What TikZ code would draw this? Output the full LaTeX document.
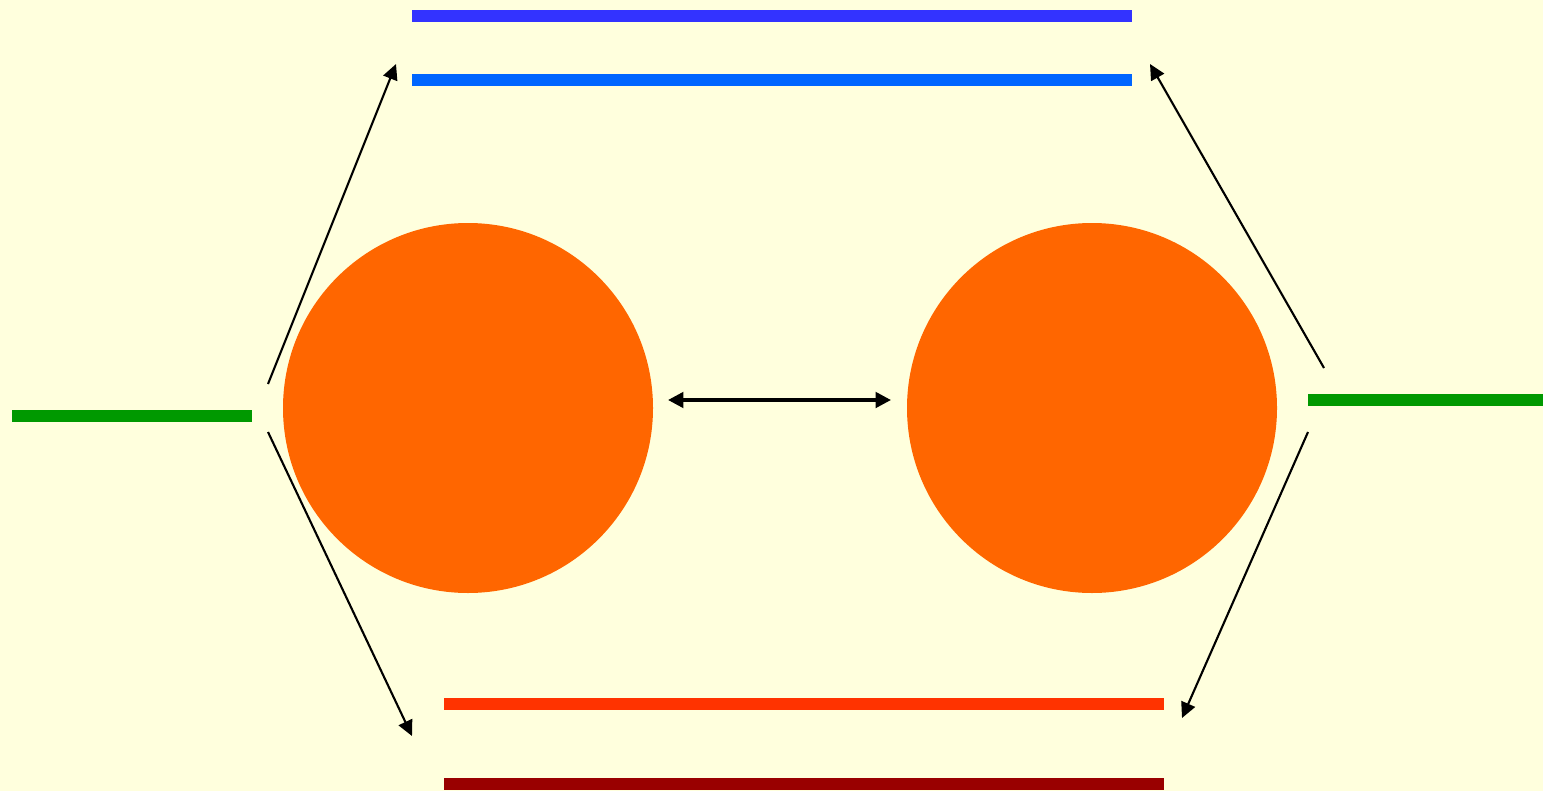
\documentclass[tikz,border=0pt]{standalone}
\usepackage{tikz}
\usetikzlibrary{calc,arrows.meta}
\definecolor{bgyellow}{RGB}{255,255,221}
\definecolor{barblue}{RGB}{51,51,255}
\definecolor{barlightblue}{RGB}{0,102,255}
\definecolor{barred}{RGB}{255,51,0}
\definecolor{bardarkred}{RGB}{153,0,0}
\definecolor{bargreen}{RGB}{0,153,0}
\definecolor{ballorange}{RGB}{255,102,0}
\tikzset{
  level/.style = {line width = 12*0.01cm},
  tip/.style = {-{Triangle[length=4.4pt, width=4.2pt]}, line width = 0.6pt},
}
\begin{document}
\begin{tikzpicture}[x = 0.01cm, y = -0.01cm]
        % background
        \path[fill = bgyellow](0,0)rectangle(1543,791);
        \useasboundingbox(0,0)rectangle(1543,791);
        % levels top
        \path[draw, level, barblue](412,16)to(1132,16);
        \path[draw, level, barlightblue](412,80)to(1132,80);
        % levels bottom
        \path[draw, level, barred](444,704)to(1164,704);
        \path[draw, level, bardarkred](444,784)to(1164,784);
        % levels left, right
        \path[draw, level, bargreen](12,416)to(252,416);
        \path[draw, level, bargreen](1308,400)to(1543,400);
        % 球
        \coordinate(c1)at(468,408);
        \coordinate(c2)at(1092,408);
        \path[fill = ballorange](c1)circle(185);
        \path[fill = ballorange](c2)circle(185);
        % exchange
        \coordinate(e1)at(668,400);
        \coordinate(e2)at(891,400);
        \path[draw, line width = 1pt, {Triangle[length=4.4pt, width=4.4pt]}-{Triangle[length=4.4pt, width=4.4pt]}](e1)to(e2);
        % transitions left
        \coordinate(l1)at(268,384);
        \coordinate(l2)at(268,432);
        \coordinate(t1)at(396,64);
        \coordinate(b1)at(412,736);
        \path[draw, tip](l1)to(t1);
        \path[draw, tip](l2)to(b1);
        % transitions right
        \coordinate(r1)at(1324,368);
        \coordinate(r2)at(1308,432);
        \coordinate(t2)at(1150,64);
        \coordinate(b2)at(1182,718);
        \path[draw, tip](r1)to(t2);
        \path[draw, tip](r2)to(b2);
    \end{tikzpicture}
\end{document}
